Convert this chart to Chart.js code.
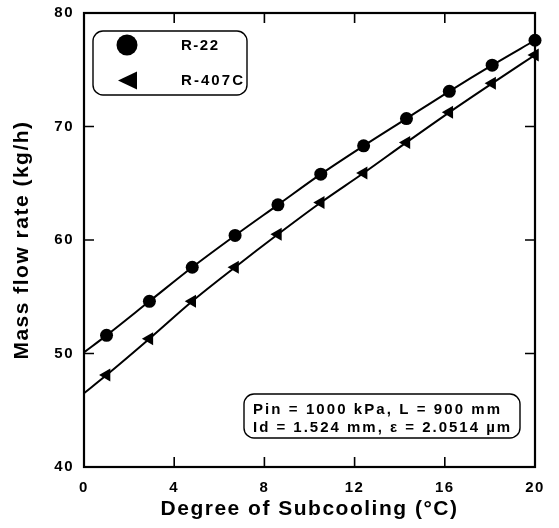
<!DOCTYPE html>
<html><head><meta charset="utf-8">
<script src="https://cdn.jsdelivr.net/npm/chart.js@4/dist/chart.umd.min.js"></script>
<style>html,body{margin:0;padding:0;background:#fff}#wrap{width:559px;height:528px;position:relative}</style>
</head><body><div id="wrap"><canvas id="c" width="559" height="528"></canvas></div>
<script>
// Degree of subcooling (°C) at measured points
const subcooling = [1, 2.9, 4.8, 6.7, 8.6, 10.5, 12.4, 14.3, 16.2, 18.1, 20];
// Mass flow rate (kg/h)
const r22 = [51.6, 54.6, 57.6, 60.4, 63.1, 65.8, 68.3, 70.7, 73.1, 75.4, 77.6];
const r407c = [48.1, 51.3, 54.6, 57.6, 60.5, 63.3, 65.9, 68.6, 71.25, 73.8, 76.3];
// curve values at zero subcooling (line start, no marker)
const curveStartX = 0;
const r22Start = 50.1;
const r407cStart = 46.5;
const seriesNames = ['R-22', 'R-407C'];
const xTicks = [0, 4, 8, 12, 16, 20];
const yTicks = [40, 50, 60, 70, 80];
const xTitle = 'Degree of Subcooling (\u00B0C)';
const yTitle = 'Mass flow rate (kg/h)';
const noteLines = ['Pin = 1000 kPa, L = 900 mm', 'Id = 1.524 mm, \u03B5 = 2.0514 \u00B5m'];

const FONT = "'Liberation Sans', Arial, Helvetica, sans-serif";

function series(start, ys) {
  return [{x: curveStartX, y: start}].concat(subcooling.map((x, i) => ({x: x, y: ys[i]})));
}

function fitText(ctx, text, x, y, target) {
  ctx.letterSpacing = '0px';
  const w = ctx.measureText(text).width;
  const ls = Math.max(0, (target - w) / Math.max(1, text.length - 1));
  ctx.letterSpacing = ls.toFixed(2) + 'px';
  ctx.fillText(text, x, y);
  ctx.letterSpacing = '0px';
}

const framePlugin = {
  id: 'frame',
  beforeDraw(chart) {
    chart.ctx.letterSpacing = '1.5px';
  },
  afterDraw(chart) {
    const ctx = chart.ctx;
    const a = chart.chartArea;
    const xs = chart.scales.x, ys = chart.scales.y;
    ctx.save();
    ctx.letterSpacing = '0px';
    ctx.strokeStyle = '#000';
    ctx.fillStyle = '#000';
    // ticks inward on all four sides
    ctx.lineWidth = 1.6;
    const tl = 10;
    ctx.beginPath();
    xTicks.slice(1, -1).forEach(v => {
      const px = xs.getPixelForValue(v);
      ctx.moveTo(px, a.bottom); ctx.lineTo(px, a.bottom - tl);
      ctx.moveTo(px, a.top); ctx.lineTo(px, a.top + tl);
    });
    yTicks.slice(1, -1).forEach(v => {
      const py = ys.getPixelForValue(v);
      ctx.moveTo(a.left, py); ctx.lineTo(a.left + tl, py);
      ctx.moveTo(a.right, py); ctx.lineTo(a.right - tl, py);
    });
    ctx.stroke();
    // frame
    ctx.lineWidth = 2.2;
    ctx.strokeRect(a.left, a.top, a.right - a.left, a.bottom - a.top);

    // legend box
    const lx = a.left + 9, ly = a.top + 18;
    ctx.lineWidth = 1.4;
    ctx.beginPath();
    ctx.roundRect(lx, ly, 154, 64, 10);
    ctx.fillStyle = '#fff';
    ctx.fill();
    ctx.stroke();
    ctx.fillStyle = '#000';
    ctx.beginPath();
    ctx.arc(lx + 34, ly + 14, 10.5, 0, Math.PI * 2);
    ctx.fill();
    ctx.beginPath();
    ctx.moveTo(lx + 25, ly + 49.5);
    ctx.lineTo(lx + 44, ly + 40.5);
    ctx.lineTo(lx + 44, ly + 58.5);
    ctx.closePath();
    ctx.fill();
    ctx.font = 'bold 15px ' + FONT;
    ctx.textBaseline = 'middle';
    ctx.textAlign = 'left';
    fitText(ctx, seriesNames[0], lx + 88, ly + 14.5, 37);
    fitText(ctx, seriesNames[1], lx + 88, ly + 50, 62);

    // note box
    const nx = 244, ny = 394;
    ctx.beginPath();
    ctx.roundRect(nx, ny, 276, 44, 10);
    ctx.fillStyle = '#fff';
    ctx.fill();
    ctx.stroke();
    ctx.fillStyle = '#000';
    ctx.font = 'bold 15px ' + FONT;
    fitText(ctx, noteLines[0], nx + 9, ny + 15.5, 247);
    fitText(ctx, noteLines[1], nx + 9, ny + 33.5, 257);
    ctx.restore();
  }
};

const tickFont = {family: FONT, size: 15, weight: 'bold'};
const titleFont = {family: FONT, size: 21, weight: 'bold'};

new Chart(document.getElementById('c'), {
  type: 'line',
  data: {
    datasets: [
      {
        label: seriesNames[0],
        data: series(r22Start, r22),
        borderColor: '#000', backgroundColor: '#000', borderWidth: 2,
        pointStyle: 'circle',
        pointRadius: c => c.dataIndex === 0 ? 0 : 6.5,
        pointBorderWidth: 0,
        cubicInterpolationMode: 'monotone',
        clip: false
      },
      {
        label: seriesNames[1],
        data: series(r407cStart, r407c),
        borderColor: '#000', backgroundColor: '#000', borderWidth: 2,
        pointStyle: 'triangle',
        pointRotation: -90,
        pointRadius: c => c.dataIndex === 0 ? 0 : 7.5,
        pointBorderWidth: 0,
        cubicInterpolationMode: 'monotone',
        clip: false
      }
    ]
  },
  options: {
    responsive: false,
    animation: false,
    devicePixelRatio: 1,
    layout: {padding: {left: 0, top: 13, right: 24, bottom: 0}},
    plugins: {legend: {display: false}, tooltip: {enabled: false}},
    scales: {
      x: {
        type: 'linear', min: 0, max: 20,
        afterBuildTicks: s => { s.ticks = xTicks.map(v => ({value: v})); },
        afterFit: s => { s.height = 61; s.paddingLeft = 0; s.paddingRight = 0; },
        grid: {display: false, drawTicks: false},
        border: {display: false},
        ticks: {color: '#000', font: tickFont, padding: 12, maxRotation: 0, autoSkip: false},
        title: {display: true, text: xTitle, color: '#000', font: titleFont, padding: {top: 0, bottom: 6}}
      },
      y: {
        type: 'linear', min: 40, max: 80,
        afterBuildTicks: s => { s.ticks = yTicks.map(v => ({value: v})); },
        afterFit: s => { s.width = 84; s.paddingTop = 0; s.paddingBottom = 0; },
        grid: {display: false, drawTicks: false},
        border: {display: false},
        ticks: {color: '#000', font: tickFont, padding: 10, autoSkip: false},
        title: {display: true, text: yTitle, color: '#000', font: titleFont, padding: {top: 10, bottom: 0}}
      }
    }
  },
  plugins: [framePlugin]
});
</script>
</body></html>
